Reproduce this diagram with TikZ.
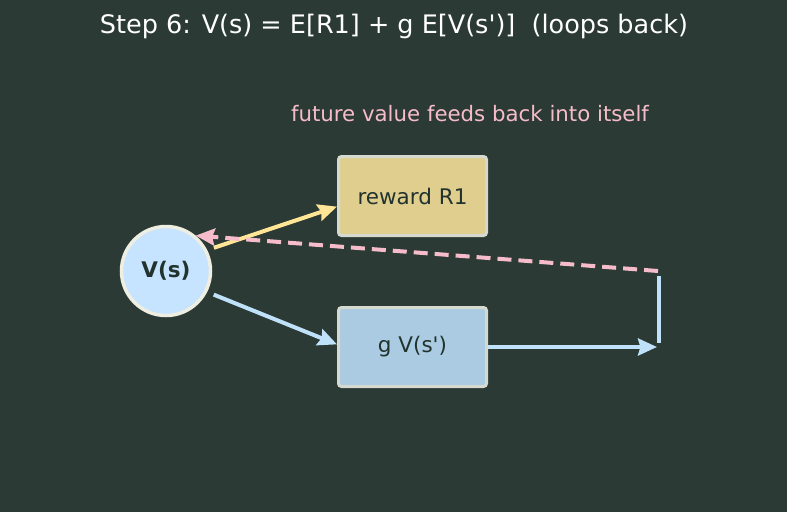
\documentclass[tikz,border=0pt]{standalone}
\usepackage{fontspec}
\setmainfont{DejaVu Sans}
\usetikzlibrary{positioning,arrows.meta}
\definecolor{bgdark}{HTML}{2B3A34}
\definecolor{vfill}{HTML}{C6E3FF}
\definecolor{vdraw}{HTML}{EEEEE2}
\definecolor{rfill}{HTML}{E0CE8F}
\definecolor{gfill}{HTML}{AACBE1}
\definecolor{boxdraw}{HTML}{D6D9CF}
\definecolor{txtdark}{HTML}{22332E}
\definecolor{yelarr}{HTML}{FFE596}
\definecolor{bluarr}{HTML}{BFE1FA}
\definecolor{pinkarr}{HTML}{F6BCCB}

\begin{document}
\begin{tikzpicture}[
  x=1pt, y=-1pt,
  state/.style={circle, draw=vdraw, line width=3.5pt, fill=vfill, minimum size=89pt, text=txtdark, font=\fontsize{21.5}{24}\selectfont\bfseries},
  term/.style={rectangle, draw=boxdraw, line width=3pt, rounded corners=3pt, minimum width=148pt, minimum height=79pt, text=txtdark, font=\fontsize{21.5}{24}\selectfont},
  arr/.style={-{Stealth[length=19pt, width=17pt, inset=2.5pt]}, line width=4pt},
]
\fill[bgdark] (0,0) rectangle (787,512);
\useasboundingbox (0,0) rectangle (787,512);

\node[text=white, font=\fontsize{25.5}{28}\selectfont] (title) at (394,26) {Step 6: V(s) = E[R1] + g E[V(s\textquotesingle)]\ \ (loops back)};
\node[text=pinkarr, font=\fontsize{21.3}{24}\selectfont] (note) at (470,114) {future value feeds back into itself};

\node[state] (vs) at (166,271) {V(s)};
\node[term, fill=rfill] (rew) at (412.5,196) {reward R1};
\node[term, fill=gfill] (gvs) at (412.5,347) {g V(s\textquotesingle)};

% loop back on the right
\coordinate (loopbot) at (657,347);
\coordinate (linebot) at (659,343);
\coordinate (linetop) at (659,276);
\coordinate (looptop) at (658,271);

\draw[arr, yelarr, shorten <=7pt] (vs.27) -- (rew.188);
\draw[arr, bluarr, shorten <=7pt] (vs.-27) -- (gvs.178);
\draw[arr, bluarr] (gvs.east) -- (loopbot);
\draw[bluarr, line width=4pt] (linebot) -- (linetop);
\draw[arr, pinkarr, dashed, dash pattern=on 14pt off 7pt] (looptop) -- (vs.50);
\end{tikzpicture}
\end{document}
